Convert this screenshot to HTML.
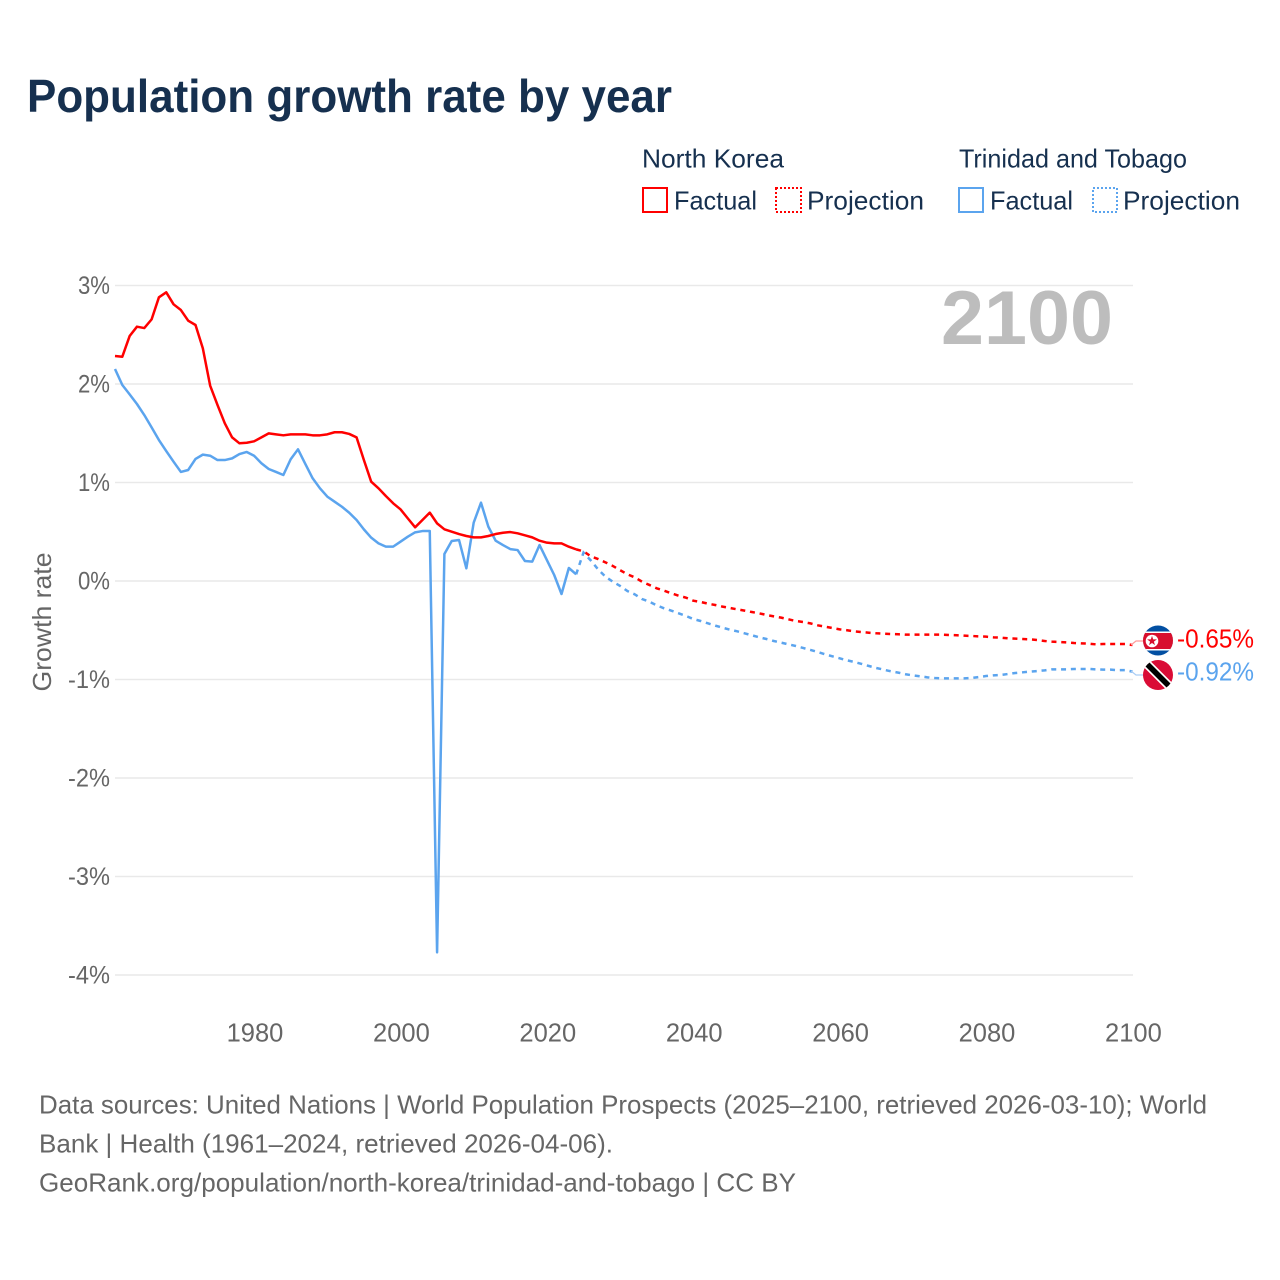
<!DOCTYPE html>
<html lang="en">
<head>
<meta charset="utf-8">
<title>Population growth rate by year</title>
<style>
html,body{margin:0;padding:0;background:#fff;width:1280px;height:1280px;overflow:hidden}
svg{display:block}
text{font-family:"Liberation Sans",sans-serif}
</style>
</head>
<body>
<svg id="chart" xmlns="http://www.w3.org/2000/svg" width="1280" height="1280" viewBox="0 0 1280 1280">
  <rect width="1280" height="1280" fill="#ffffff"/>
  <text x="27" y="112" font-size="46" font-weight="700" fill="#16304f" textLength="645" lengthAdjust="spacingAndGlyphs">Population growth rate by year</text>

  <g font-size="26" fill="#16304f">
    <text x="642" y="167.5" textLength="142" lengthAdjust="spacingAndGlyphs">North Korea</text>
    <text x="959" y="167.5" textLength="228" lengthAdjust="spacingAndGlyphs">Trinidad and Tobago</text>
    <g>
      <rect x="643" y="188" width="24" height="24" fill="none" stroke="#ff0000" stroke-width="2"/>
      <text x="674" y="209.5" textLength="83" lengthAdjust="spacingAndGlyphs">Factual</text>
    </g>
    <g>
      <rect x="776" y="188" width="25" height="24" fill="none" stroke="#ff0000" stroke-width="2" stroke-dasharray="2 2"/>
      <text x="807" y="209.5" textLength="117" lengthAdjust="spacingAndGlyphs">Projection</text>
    </g>
    <g>
      <rect x="959" y="188" width="24" height="24" fill="none" stroke="#5ba4ee" stroke-width="2"/>
      <text x="990" y="209.5" textLength="83" lengthAdjust="spacingAndGlyphs">Factual</text>
    </g>
    <g>
      <rect x="1093" y="188" width="24" height="24" fill="none" stroke="#5ba4ee" stroke-width="2" stroke-dasharray="2 2"/>
      <text x="1123" y="209.5" textLength="117" lengthAdjust="spacingAndGlyphs">Projection</text>
    </g>
  </g>

  <g id="grid"></g>
  <g id="yticks"></g>
  <g id="xticks"></g>
  <text transform="translate(51,622) rotate(-90)" text-anchor="middle" font-size="26" fill="#666666" textLength="139" lengthAdjust="spacingAndGlyphs">Growth rate</text>
  <text x="941" y="344" font-size="76" font-weight="700" fill="#bdbdbd" textLength="172" lengthAdjust="spacingAndGlyphs">2100</text>

  <g id="series"></g>

  <path d="M1131 645 L1136 641 L1143 641" fill="none" stroke="#ff9a9a" stroke-width="1.2"/>
  <path d="M1131 671 L1136 675 L1143 675" fill="none" stroke="#a9cdf5" stroke-width="1.2"/>

  <defs>
    <clipPath id="flag-a"><circle cx="1158" cy="640.5" r="15"/></clipPath>
    <clipPath id="flag-b"><circle cx="1158" cy="675" r="15"/></clipPath>
  </defs>
  <g clip-path="url(#flag-a)">
    <rect x="1143" y="625.5" width="30" height="30" fill="#024fa2"/>
    <rect x="1143" y="631.5" width="30" height="19" fill="#ffffff"/>
    <rect x="1143" y="633" width="30" height="16" fill="#d80f2e"/>
    <circle cx="1152" cy="641" r="6.3" fill="#ffffff"/>
    <polygon points="1152,635.9 1153.2,639.4 1156.9,639.4 1153.9,641.6 1155,645.1 1152,643 1149,645.1 1150.1,641.6 1147.1,639.4 1150.8,639.4" fill="#d80f2e"/>
  </g>
  <g clip-path="url(#flag-b)">
    <rect x="1143" y="660" width="30" height="30" fill="#da0c36"/>
    <line x1="1145" y1="662" x2="1171" y2="688" stroke="#ffffff" stroke-width="9"/>
    <line x1="1145" y1="662" x2="1171" y2="688" stroke="#000000" stroke-width="5.6"/>
  </g>
  <text x="1177" y="647.5" font-size="26" fill="#ff0000" textLength="77" lengthAdjust="spacingAndGlyphs">-0.65%</text>
  <text x="1177" y="680.5" font-size="26" fill="#5ba4ee" textLength="77" lengthAdjust="spacingAndGlyphs">-0.92%</text>

  <g font-size="26" fill="#666666">
    <text x="39" y="1113.5" textLength="1168" lengthAdjust="spacingAndGlyphs">Data sources: United Nations | World Population Prospects (2025–2100, retrieved 2026-03-10); World</text>
    <text x="39" y="1152.5" textLength="574" lengthAdjust="spacingAndGlyphs">Bank | Health (1961–2024, retrieved 2026-04-06).</text>
    <text x="39" y="1191.5" textLength="757" lengthAdjust="spacingAndGlyphs">GeoRank.org/population/north-korea/trinidad-and-tobago | CC BY</text>
  </g>
</svg>
<script>
const factualStartYear = 1961;
const projectionStartYear = 2025;
const yTickValues = [3, 2, 1, 0, -1, -2, -3, -4];
const yTickLabels = ["3%", "2%", "1%", "0%", "-1%", "-2%", "-3%", "-4%"];
const xTickValues = [1980, 2000, 2020, 2040, 2060, 2080, 2100];
const xTickLabels = ["1980", "2000", "2020", "2040", "2060", "2080", "2100"];

const northKoreaFactual = [2.284,2.277,2.487,2.582,2.568,2.656,2.88,2.931,2.809,2.751,2.643,2.599,2.362,1.983,1.787,1.601,1.458,1.398,1.404,1.418,1.458,1.499,1.489,1.479,1.489,1.489,1.489,1.479,1.479,1.489,1.51,1.51,1.493,1.458,1.228,1.008,0.941,0.863,0.789,0.728,0.636,0.545,0.619,0.694,0.585,0.525,0.501,0.477,0.457,0.443,0.443,0.457,0.477,0.49,0.497,0.484,0.464,0.443,0.409,0.389,0.382,0.382,0.348,0.321];
const northKoreaProjection = [0.301,0.251,0.223,0.189,0.153,0.11,0.068,0.037,-0.007,-0.04,-0.074,-0.098,-0.125,-0.149,-0.169,-0.2,-0.213,-0.23,-0.244,-0.26,-0.274,-0.288,-0.301,-0.315,-0.328,-0.345,-0.359,-0.372,-0.389,-0.406,-0.416,-0.43,-0.45,-0.464,-0.477,-0.491,-0.5,-0.511,-0.518,-0.525,-0.531,-0.535,-0.538,-0.541,-0.545,-0.545,-0.545,-0.545,-0.545,-0.545,-0.548,-0.551,-0.555,-0.558,-0.562,-0.565,-0.572,-0.575,-0.582,-0.585,-0.589,-0.592,-0.599,-0.609,-0.616,-0.619,-0.623,-0.629,-0.633,-0.636,-0.643,-0.64,-0.64,-0.64,-0.64,-0.65];
const trinidadFactual = [2.152,1.99,1.895,1.797,1.685,1.56,1.431,1.319,1.211,1.107,1.127,1.239,1.283,1.272,1.228,1.228,1.245,1.289,1.31,1.272,1.195,1.137,1.107,1.076,1.236,1.337,1.188,1.043,0.941,0.857,0.805,0.754,0.693,0.619,0.524,0.44,0.382,0.349,0.349,0.399,0.45,0.494,0.507,0.507,-3.77,0.274,0.406,0.416,0.129,0.592,0.795,0.552,0.409,0.365,0.324,0.314,0.203,0.197,0.365,0.213,0.061,-0.132,0.132,0.068];
const trinidadProjection = [0.288,0.208,0.118,0.044,-0.007,-0.05,-0.102,-0.135,-0.183,-0.21,-0.247,-0.277,-0.301,-0.328,-0.355,-0.386,-0.406,-0.43,-0.453,-0.474,-0.494,-0.511,-0.531,-0.551,-0.572,-0.589,-0.609,-0.626,-0.643,-0.66,-0.68,-0.7,-0.721,-0.744,-0.765,-0.785,-0.805,-0.822,-0.842,-0.863,-0.883,-0.9,-0.917,-0.93,-0.947,-0.958,-0.968,-0.978,-0.985,-0.988,-0.988,-0.988,-0.988,-0.985,-0.975,-0.965,-0.958,-0.954,-0.944,-0.934,-0.927,-0.92,-0.914,-0.907,-0.897,-0.897,-0.897,-0.893,-0.893,-0.893,-0.897,-0.9,-0.9,-0.905,-0.905,-0.92];

const NS = "http://www.w3.org/2000/svg";
function xScale(year) { return 115 + (year - 1961) * 7.32; }
function tickX(year) { return 255 + (year - 1980) * 7.32; }
function yScale(value) { return 581 - value * 98.5; }
function make(tag, attrs, parent) {
  const el = document.createElementNS(NS, tag);
  for (const k in attrs) el.setAttribute(k, attrs[k]);
  parent.appendChild(el);
  return el;
}
const gridGroup = document.getElementById("grid");
const yTickGroup = document.getElementById("yticks");
const xTickGroup = document.getElementById("xticks");
const seriesGroup = document.getElementById("series");

yTickValues.forEach(function (v, i) {
  const line = make("line", { x1: 115, x2: 1133, y1: yScale(v), y2: yScale(v), stroke: "#e9e9e9", "stroke-width": 1.4 }, gridGroup);
  
  
  const label = make("text", { x: 110, y: yScale(v) + 8.5, "text-anchor": "end", "font-size": 25, fill: "#666666", textLength: yTickLabels[i].length === 2 ? 32 : 42, lengthAdjust: "spacingAndGlyphs" }, yTickGroup);
  
  
  label.textContent = yTickLabels[i];
});
xTickValues.forEach(function (v, i) {
  const label = make("text", { x: tickX(v), y: 1041.5, "text-anchor": "middle", "font-size": 25.5, fill: "#666666" }, xTickGroup);
  
  
  label.textContent = xTickLabels[i];
});
function pathFrom(values, startYear, lead) {
  const pts = values.map(function (v, i) { return xScale(startYear + i).toFixed(2) + " " + yScale(v).toFixed(2); });
  if (lead !== undefined) pts.unshift(xScale(startYear - 1).toFixed(2) + " " + yScale(lead).toFixed(2));
  return "M" + pts.join(" L");
}
const lastNK = northKoreaFactual[northKoreaFactual.length - 1];
const lastTT = trinidadFactual[trinidadFactual.length - 1];

const nkProj = make("path", { d: pathFrom(northKoreaProjection, projectionStartYear, lastNK), fill: "none", stroke: "#ff0000", "stroke-width": 2.5, "stroke-dasharray": "5 4.8" }, seriesGroup);



const ttFact = make("path", { d: pathFrom(trinidadFactual, factualStartYear), fill: "none", stroke: "#5ba4ee", "stroke-width": 2.5, "stroke-linejoin": "round" }, seriesGroup);



const ttProj = make("path", { d: pathFrom(trinidadProjection, projectionStartYear, lastTT), fill: "none", stroke: "#5ba4ee", "stroke-width": 2.5, "stroke-dasharray": "5 4.8" }, seriesGroup);



const nkFact = make("path", { d: pathFrom(northKoreaFactual, factualStartYear), fill: "none", stroke: "#ff0000", "stroke-width": 2.5, "stroke-linejoin": "round" }, seriesGroup);


</script>
</body>
</html>
